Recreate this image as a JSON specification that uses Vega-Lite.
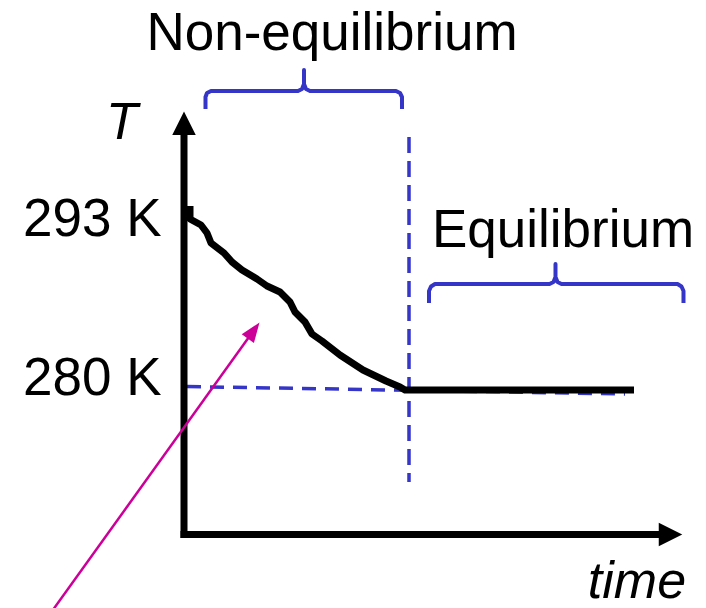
{
  "$schema": "https://vega.github.io/schema/vega-lite/v6.json",
  "width": 706,
  "height": 608,
  "autosize": "none",
  "padding": 0,
  "background": "white",
  "config": {"view": {"stroke": null}},
  "datasets": {
    "axes": [
      {"seg": "y", "i": 0, "t": 0, "T": 268.346},
      {"seg": "y", "i": 1, "t": 0, "T": 299.731},
      {"seg": "x", "i": 0, "t": -0.1867, "T": 268.615},
      {"seg": "x", "i": 1, "t": 25.6, "T": 268.615}
    ],
    "curve": [
      {"i": 1, "t": 0.32, "T": 293.885},
      {"i": 2, "t": 0.32, "T": 292.885},
      {"i": 3, "t": 0.9067, "T": 292.423},
      {"i": 4, "t": 1.2267, "T": 291.808},
      {"i": 5, "t": 1.44, "T": 291.038},
      {"i": 6, "t": 2.1333, "T": 290.269},
      {"i": 7, "t": 2.56, "T": 289.577},
      {"i": 8, "t": 3.0933, "T": 288.962},
      {"i": 9, "t": 3.8933, "T": 288.269},
      {"i": 10, "t": 4.4267, "T": 287.731},
      {"i": 11, "t": 5.12, "T": 287.269},
      {"i": 12, "t": 5.6533, "T": 286.5},
      {"i": 13, "t": 5.92, "T": 285.731},
      {"i": 14, "t": 6.4533, "T": 284.962},
      {"i": 15, "t": 6.8267, "T": 284.038},
      {"i": 16, "t": 7.36, "T": 283.5},
      {"i": 17, "t": 8.32, "T": 282.423},
      {"i": 18, "t": 9.5467, "T": 281.269},
      {"i": 19, "t": 10.7733, "T": 280.423},
      {"i": 20, "t": 11.52, "T": 279.962},
      {"i": 21, "t": 11.7867, "T": 279.731},
      {"i": 22, "t": 24.0, "T": 279.731}
    ],
    "dashed_h": [
      {"i": 0, "t": 0.16, "T": 280},
      {"i": 1, "t": 23.52, "T": 279.423}
    ],
    "dashed_v": [
      {"i": 0, "t": 12, "T": 299.192},
      {"i": 1, "t": 12, "T": 272.654}
    ],
    "brackets": [
      {"b": "non", "i": 1, "t": 1.1467, "T": 301.346},
      {"b": "non", "i": 2, "t": 1.1467, "T": 302.269},
      {"b": "non", "i": 3, "t": 1.2267, "T": 302.577},
      {"b": "non", "i": 4, "t": 1.44, "T": 302.731},
      {"b": "non", "i": 5, "t": 6.08, "T": 302.731},
      {"b": "non", "i": 6, "t": 6.2933, "T": 302.885},
      {"b": "non", "i": 7, "t": 6.4, "T": 303.269},
      {"b": "non", "i": 8, "t": 6.4, "T": 304.346},
      {"b": "non", "i": 9, "t": 6.4, "T": 303.269},
      {"b": "non", "i": 10, "t": 6.5067, "T": 302.885},
      {"b": "non", "i": 11, "t": 6.72, "T": 302.731},
      {"b": "non", "i": 12, "t": 11.3067, "T": 302.731},
      {"b": "non", "i": 13, "t": 11.52, "T": 302.577},
      {"b": "non", "i": 14, "t": 11.6267, "T": 302.269},
      {"b": "non", "i": 15, "t": 11.6267, "T": 301.346},
      {"b": "eq", "i": 1, "t": 13.0667, "T": 286.423},
      {"b": "eq", "i": 2, "t": 13.0667, "T": 287.346},
      {"b": "eq", "i": 3, "t": 13.1733, "T": 287.692},
      {"b": "eq", "i": 4, "t": 13.3867, "T": 287.885},
      {"b": "eq", "i": 5, "t": 19.4933, "T": 287.885},
      {"b": "eq", "i": 6, "t": 19.7067, "T": 288.038},
      {"b": "eq", "i": 7, "t": 19.8133, "T": 288.423},
      {"b": "eq", "i": 8, "t": 19.8133, "T": 289.423},
      {"b": "eq", "i": 9, "t": 19.8133, "T": 288.423},
      {"b": "eq", "i": 10, "t": 19.92, "T": 288.038},
      {"b": "eq", "i": 11, "t": 20.1333, "T": 287.885},
      {"b": "eq", "i": 12, "t": 26.32, "T": 287.885},
      {"b": "eq", "i": 13, "t": 26.5333, "T": 287.692},
      {"b": "eq", "i": 14, "t": 26.64, "T": 287.346},
      {"b": "eq", "i": 15, "t": 26.64, "T": 286.423}
    ],
    "pointer": [
      {"i": 0, "t": -7.376, "T": 262.04},
      {"i": 1, "t": 3.715, "T": 284.3}
    ],
    "labels_center": [
      {"label": "Non-equilibrium", "t": 7.893, "T": 305.885},
      {"label": "Equilibrium", "t": 20.213, "T": 290.731}
    ],
    "labels_left": [
      {"label": "293 K", "t": -8.587, "T": 291.577},
      {"label": "280 K", "t": -8.587, "T": 279.346}
    ],
    "labels_italic": [
      {"label": "T", "t": -3.307, "T": 299.04},
      {"label": "time", "t": 24.16, "T": 263.73}
    ]
  },
  "encoding": {
    "x": {"field": "t", "type": "quantitative", "axis": null, "scale": {"domain": [-9.8133, 27.84], "nice": false, "zero": false}},
    "y": {"field": "T", "type": "quantitative", "axis": null, "scale": {"domain": [262.9615, 309.7308], "nice": false, "zero": false}}
  },
  "layer": [
    {
      "data": {"name": "dashed_h"},
      "mark": {"type": "line", "color": "#3535C8", "strokeWidth": 3.5, "strokeDash": [14, 9]},
      "encoding": {"order": {"field": "i"}}
    },
    {
      "data": {"name": "dashed_v"},
      "mark": {"type": "line", "color": "#3535C8", "strokeWidth": 3.5, "strokeDash": [16, 8]},
      "encoding": {"order": {"field": "i"}}
    },
    {
      "data": {"name": "axes"},
      "mark": {"type": "line", "color": "black", "strokeWidth": 7, "strokeCap": "butt"},
      "encoding": {"detail": {"field": "seg"}, "order": {"field": "i"}}
    },
    {
      "data": {"name": "axes"},
      "transform": [{"filter": "datum.seg == 'y' && datum.i == 1"}, {"calculate": "300.25", "as": "T"}],
      "mark": {"type": "point", "shape": "M0,-1L1,1L-1,1Z", "size": 552, "filled": true, "color": "black", "opacity": 1, "strokeWidth": 0, "angle": 0},
      "encoding": {}
    },
    {
      "data": {"values": [{"t": 25.947, "T": 268.615}]},
      "mark": {"type": "point", "shape": "M0,-1L1,1L-1,1Z", "size": 552, "filled": true, "color": "black", "opacity": 1, "strokeWidth": 0, "angle": 90},
      "encoding": {}
    },
    {
      "data": {"name": "curve"},
      "mark": {"type": "line", "color": "black", "strokeWidth": 7, "strokeJoin": "round", "strokeCap": "butt"},
      "encoding": {"order": {"field": "i"}}
    },
    {
      "data": {"name": "brackets"},
      "mark": {"type": "line", "color": "#3535C8", "strokeWidth": 4, "strokeJoin": "round", "strokeCap": "butt"},
      "encoding": {"detail": {"field": "b"}, "order": {"field": "i"}}
    },
    {
      "data": {"name": "pointer"},
      "mark": {"type": "line", "color": "#CC0099", "strokeWidth": 2.5},
      "encoding": {"order": {"field": "i"}}
    },
    {
      "data": {"name": "pointer"},
      "transform": [{"filter": "datum.i == 1"}],
      "mark": {"type": "point", "shape": "M0,-1L0.75,1L-0.75,1Z", "size": 400, "filled": true, "color": "#CC0099", "opacity": 1, "strokeWidth": 0, "angle": 35.7},
      "encoding": {}
    },
    {
      "data": {"name": "labels_center"},
      "mark": {"type": "text", "font": "Liberation Sans", "fontSize": 53, "align": "center", "baseline": "alphabetic", "color": "black"},
      "encoding": {"text": {"field": "label"}}
    },
    {
      "data": {"name": "labels_left"},
      "mark": {"type": "text", "font": "Liberation Sans", "fontSize": 53, "align": "left", "baseline": "alphabetic", "color": "black"},
      "encoding": {"text": {"field": "label"}}
    },
    {
      "data": {"name": "labels_italic"},
      "mark": {"type": "text", "font": "Liberation Sans", "fontSize": 52, "fontStyle": "italic", "align": "center", "baseline": "alphabetic", "color": "black"},
      "encoding": {"text": {"field": "label"}}
    }
  ]
}
